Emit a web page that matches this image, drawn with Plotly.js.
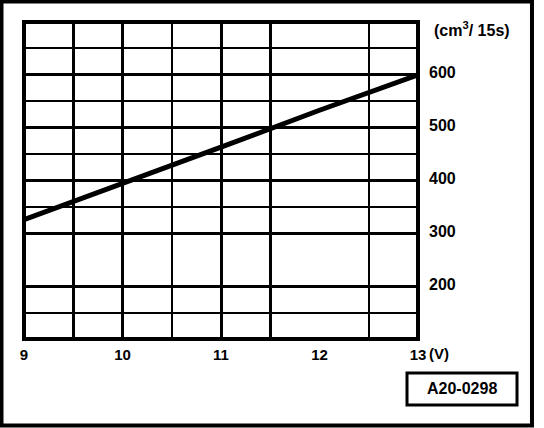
<!DOCTYPE html>
<html>
<head>
<meta charset="utf-8">
<script src="https://cdn.plot.ly/plotly-3.0.1.min.js"></script>
<style>
html,body{margin:0;padding:0;background:#fff;}
#chart{width:544px;height:428px;}
</style>
</head>
<body>
<div id="chart"></div>
<script>
// Data
const voltage = [9, 10, 11, 12, 13];
const flow = [326, 394, 463, 533, 600];

// Axis ticks / grid
const xGridMajor = [10, 11];
const xGridMinor = [9.5, 10.5, 11.5, 12.5];
const xLabelVals = [9, 10, 11, 12, 13];
const xLabelText = ["9", "10", "11", "12", "13"];
const yGridMajor = [200, 300, 400, 500, 600];
const yGridMinor = [150, 350, 450, 550, 650];
const yLabelVals = [200, 300, 400, 500, 600];
const yLabelText = ["200", "300", "400", "500", "600"];
const xUnit = "(V)";
const yUnit = "(cm<sup>3</sup>/ 15s)";
const figCode = "A20-0298";

const FONT = "Liberation Sans, Arial, sans-serif";
const xTickFont = {family: FONT, size: 15, color: "#000", weight: 700};
const yTickFont = {family: FONT, size: 16, color: "#000", weight: 700};

const traces = [
  {x: voltage, y: flow, type: "scatter", mode: "lines",
   line: {color: "#000", width: 5}, xaxis: "x", yaxis: "y", hoverinfo: "skip"},
  {x: voltage, y: flow, type: "scatter", mode: "none",
   xaxis: "x2", yaxis: "y2", hoverinfo: "skip", showlegend: false}
];

const layout = {
  width: 544, height: 428,
  margin: {l: 24, r: 126, t: 22, b: 89, pad: 0},
  paper_bgcolor: "#fff", plot_bgcolor: "#fff",
  showlegend: false,
  xaxis: {
    range: [9, 13], tickmode: "array", tickvals: xGridMajor,
    showticklabels: false, ticks: "", showgrid: true, gridcolor: "#000", gridwidth: 3,
    zeroline: false, showline: false, fixedrange: true,
    minor: {tickmode: "array", tickvals: xGridMinor, showgrid: true, gridcolor: "#000", gridwidth: 2.5, ticks: ""}
  },
  yaxis: {
    range: [100, 700], tickmode: "array", tickvals: yGridMajor,
    showticklabels: false, ticks: "", showgrid: true, gridcolor: "#000", gridwidth: 3,
    zeroline: false, showline: false, fixedrange: true,
    minor: {tickmode: "array", tickvals: yGridMinor, showgrid: true, gridcolor: "#000", gridwidth: 2, ticks: ""}
  },
  xaxis2: {
    overlaying: "x", anchor: "y", side: "bottom",
    range: [9, 13], tickmode: "array", tickvals: xLabelVals, ticktext: xLabelText,
    showgrid: false, zeroline: false, showline: false, ticks: "",
    tickfont: xTickFont, ticklabelstandoff: 5, fixedrange: true
  },
  yaxis2: {
    overlaying: "y", anchor: "x", side: "right",
    range: [100, 700], tickmode: "array", tickvals: yLabelVals, ticktext: yLabelText,
    showgrid: false, zeroline: false, showline: false, ticks: "",
    tickfont: yTickFont, ticklabelstandoff: 10, ticklabelshift: -2, fixedrange: true
  },
  shapes: [
    {type: "rect", xref: "paper", yref: "paper", x0: 0, x1: 1, y0: 0, y1: 1,
     line: {color: "#000", width: 4}, layer: "above"},
    {type: "rect", xref: "paper", yref: "paper", x0: -0.0571, x1: 1.2893, y0: -0.2729, y1: 1.0647,
     line: {color: "#000", width: 4}, layer: "above"},
    {type: "rect", xref: "paper", yref: "paper", x0: 0.9721, x1: 1.2513, y0: -0.2082, y1: -0.1073,
     line: {color: "#000", width: 3}, layer: "above"}
  ],
  annotations: [
    {text: xUnit, xref: "x", yref: "paper", x: 13, y: -0.047, xanchor: "left", yanchor: "middle",
     xshift: 9, showarrow: false, font: xTickFont},
    {text: yUnit, xref: "paper", yref: "paper", x: 1.0355, y: 0.977, xanchor: "left", yanchor: "middle",
     showarrow: false, font: {family: FONT, size: 16, color: "#000", weight: 700}},
    {text: figCode, xref: "paper", yref: "paper", x: 1.1129, y: -0.1577, xanchor: "center", yanchor: "middle",
     showarrow: false, font: {family: FONT, size: 16, color: "#000", weight: 700}}
  ]
};

Plotly.newPlot("chart", traces, layout, {displayModeBar: false, staticPlot: true});
</script>
</body>
</html>
